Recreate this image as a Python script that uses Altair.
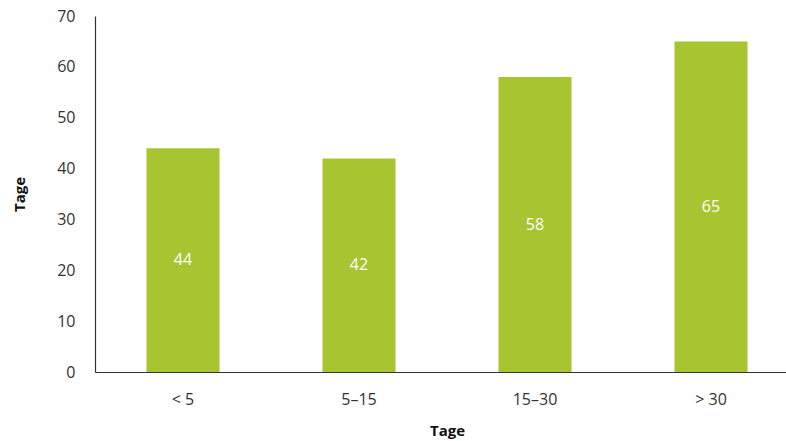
import altair as alt
import pandas as pd

categories = ["< 5", "5–15", "15–30", "> 30"]
values = [44, 42, 58, 65]

df = pd.DataFrame({"cat": categories, "val": values})

FONT = "Open Sans"
GREEN = "#a6c531"

x = alt.X("cat:N", sort=categories,
          scale=alt.Scale(paddingInner=0.585, paddingOuter=0.2925, range=[0, 704]),
          axis=alt.Axis(title="Tage", labelAngle=0, ticks=False, labelPadding=19,
                        titlePadding=16, domainColor="#333333", domainWidth=1.2))

bars = alt.Chart(df).mark_bar(color=GREEN).encode(
    x=x,
    y=alt.Y("val:Q", scale=alt.Scale(domain=[0, 70]),
            axis=alt.Axis(title="Tage", values=list(range(0, 71, 10)), ticks=False, grid=False,
                          labelPadding=20, titlePadding=29, domainColor="#333333", domainWidth=1.2)),
)

text = alt.Chart(df).transform_calculate(mid="datum.val / 2").mark_text(
    color="white", font=FONT, fontSize=16, baseline="middle"
).encode(
    x=alt.X("cat:N", sort=categories),
    y=alt.Y("mid:Q"),
    text=alt.Text("val:Q"),
)

chart = (bars + text).properties(
    width=691, height=356,
    autosize=alt.AutoSizeParams(type="none"),
    padding={"left": 95, "top": 16, "right": 0, "bottom": 69},
).configure_view(stroke=None).configure_axis(
    labelFont=FONT, labelFontSize=16, labelColor="#333333",
    titleFont=FONT, titleFontSize=15, titleFontWeight="bold", titleColor="#111111",
)

chart.save("out.html", embed_options={"renderer": "svg", "actions": False})
